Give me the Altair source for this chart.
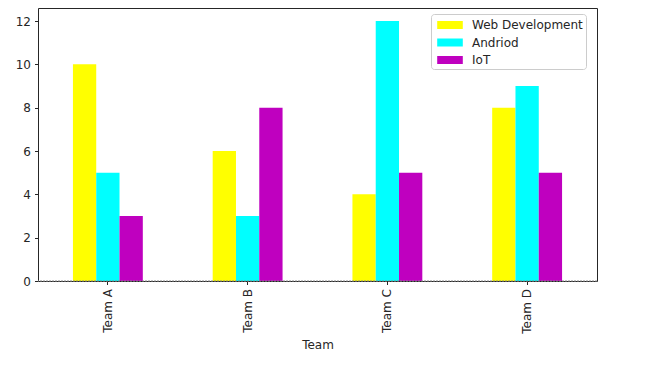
import altair as alt
import pandas as pd

teams = ["Team A", "Team B", "Team C", "Team D"]
series = ["Web Development", "Andriod", "IoT"]
web = [10, 6, 4, 8]
andriod = [5, 3, 12, 9]
iot = [3, 8, 5, 5]
colors = ["#ffff00", "#00ffff", "#bf00bf"]

rows = []
for i, t in enumerate(teams):
    for s, vals in zip(series, [web, andriod, iot]):
        rows.append({"Team": t, "Course": s, "Value": vals[i]})
df = pd.DataFrame(rows)

font = "DejaVu Sans"
fs = 12

bars = alt.Chart(df).mark_bar().encode(
    x=alt.X("Team:N", sort=teams,
            scale=alt.Scale(paddingInner=0.5, paddingOuter=0.25),
            axis=alt.Axis(title="Team", labelAngle=270, labelFont=font, labelFontSize=fs,
                          labelColor="#262626", titleFont=font, titleFontSize=fs,
                          titleFontWeight="normal", titleColor="#262626", tickSize=3.5,
                          tickColor="#262626", domain=False, labelPadding=4, titlePadding=6)),
    xOffset=alt.XOffset("Course:N", sort=series, scale=alt.Scale(paddingInner=0, paddingOuter=0)),
    y=alt.Y("Value:Q", scale=alt.Scale(domain=[0, 12.6], nice=False),
            axis=alt.Axis(title=None, values=[0, 2, 4, 6, 8, 10, 12], grid=False,
                          labelFont=font, labelFontSize=fs, labelColor="#262626",
                          tickSize=3.5, tickColor="#262626", domain=False, labelPadding=4)),
    color=alt.Color("Course:N", sort=series,
                    scale=alt.Scale(domain=series, range=colors),
                    legend=alt.Legend(title=None, orient="none", legendX=393, legendY=6,
                                      labelFont=font, labelFontSize=fs, labelColor="#262626",
                                      symbolType="M-1.6,-0.5H1.6V0.5H-1.6Z", symbolSize=256,
                                      symbolStrokeWidth=0, symbolOffset=8,
                                      strokeColor="#cccccc",
                                      fillColor="white", padding=3, cornerRadius=3,
                                      rowPadding=3.5, labelOffset=14)),
)

zero = alt.Chart(pd.DataFrame({"y": [0]})).mark_rule(color="#888888", strokeDash=[2, 1], strokeWidth=1).encode(y="y:Q")

chart = alt.layer(bars, zero).properties(
    width=559, height=273,
    autosize=alt.AutoSizeParams(type="none"),
    padding={"left": 30, "top": 0, "right": 43, "bottom": 80},
).configure_view(stroke="#262626", strokeWidth=1)

chart.save("out.html", embed_options={"renderer": "svg", "actions": False})
